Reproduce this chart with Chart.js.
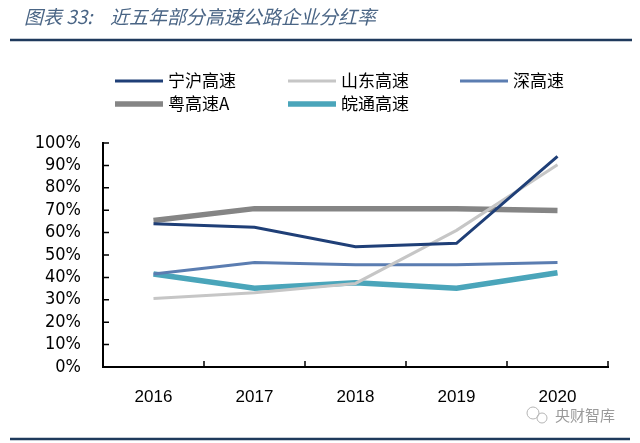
<!DOCTYPE html>
<html>
<head>
<meta charset="utf-8">
<script src="https://cdn.jsdelivr.net/npm/chart.js@4/dist/chart.umd.min.js"></script>
<style>
  html, body { margin: 0; padding: 0; background: #fff; }
  #wrap { width: 640px; height: 443px; position: relative; }
</style>
</head>
<body>
<div id="wrap"><canvas id="myChart" width="640" height="443"></canvas></div>
<script>
const years = ["2016", "2017", "2018", "2019", "2020"];
const seriesNames = ["宁沪高速", "山东高速", "深高速", "粤高速A", "皖通高速"];
const ningHu = [63.9, 62.4, 53.7, 55.2, 94.0];
const shanDong = [30.6, 33.1, 37.3, 61.0, 90.3];
const shenGs = [41.5, 46.6, 45.7, 45.7, 46.6];
const yueGs = [65.4, 70.7, 70.7, 70.7, 69.9];
const wanTong = [41.5, 35.2, 37.6, 35.2, 42.1];
const yTicks = [0, 10, 20, 30, 40, 50, 60, 70, 80, 90, 100];

const colors = ["#1f3f77", "#c6c6c6", "#5b7db1", "#858585", "#4aa5ba"];
const widths = [3, 3, 3, 5.5, 5.5];
const values = [ningHu, shanDong, shenGs, yueGs, wanTong];

// title, rules, legend, watermark and inward ticks
const decor = {
  id: "decor",
  afterDraw(chart) {
    const ctx = chart.ctx;
    ctx.save();

    ctx.fillStyle = "#4a6585";
    ctx.font = "italic 19px 'Noto Sans CJK SC'";
    ctx.textBaseline = "middle";
    ctx.textAlign = "left";
    ctx.fillText("图表 33:", 24, 17);
    ctx.fillText("近五年部分高速公路企业分红率", 110, 17);

    ctx.strokeStyle = "#1f3a5c";
    ctx.lineWidth = 2.5;
    ctx.beginPath();
    ctx.moveTo(10, 40);
    ctx.lineTo(632, 40);
    ctx.moveTo(10, 439);
    ctx.lineTo(630, 439);
    ctx.stroke();

    // legend in a fixed grid
    const cols = [115, 288, 460];
    const rows = [81, 104];
    ctx.font = "17px 'Noto Sans CJK SC'";
    ctx.fillStyle = "#000";
    chart.data.datasets.forEach((ds, i) => {
      const x = cols[i % 3];
      const y = rows[Math.floor(i / 3)];
      ctx.strokeStyle = ds.borderColor;
      ctx.lineWidth = ds.borderWidth;
      ctx.beginPath();
      ctx.moveTo(x, y);
      ctx.lineTo(x + 48, y);
      ctx.stroke();
      ctx.fillText(ds.label, x + 53, y);
    });

    // watermark
    ctx.fillStyle = "#9a9a9a";
    ctx.font = "15px 'Noto Sans CJK SC'";
    ctx.fillText("央财智库", 555, 415);
    ctx.strokeStyle = "#b5b5b5";
    ctx.lineWidth = 1;
    ctx.beginPath();
    ctx.arc(533, 413, 6, 0, Math.PI * 2);
    ctx.moveTo(547, 418);
    ctx.arc(542, 418, 5, 0, Math.PI * 2);
    ctx.stroke();

    // inward tick marks
    const xs = chart.scales.x;
    const ys = chart.scales.y;
    ctx.strokeStyle = "#000";
    ctx.lineWidth = 1.5;
    ctx.beginPath();
    ys.ticks.forEach((t) => {
      const py = ys.getPixelForValue(t.value);
      ctx.moveTo(xs.left, py);
      ctx.lineTo(xs.left + 6, py);
    });
    for (let i = 1; i <= years.length; i++) {
      const px = xs.getPixelForValue(i - 0.5);
      ctx.moveTo(px, ys.bottom);
      ctx.lineTo(px, ys.bottom - 6);
    }
    ctx.stroke();
    ctx.restore();
  },
};

const config = {
  type: "line",
  data: {
    labels: years,
    datasets: seriesNames.map((name, i) => ({
      label: name,
      data: values[i],
      borderColor: colors[i],
      backgroundColor: colors[i],
      borderWidth: widths[i],
      pointRadius: 0,
      tension: 0,
      fill: false,
    })),
  },
  options: {
    responsive: false,
    animation: false,
    layout: { padding: { left: 0, right: 32, top: 143, bottom: 26 } },
    plugins: {
      legend: { display: false },
      tooltip: { enabled: false },
    },
    scales: {
      x: {
        offset: true,
        grid: { display: false, offset: true },
        border: { color: "#000", width: 2 },
        ticks: {
          color: "#000",
          padding: 12,
          font: { family: "'Liberation Sans'", size: 17 },
        },
        afterFit(scale) { scale.height = 50; },
      },
      y: {
        min: 0,
        max: 100,
        afterBuildTicks(scale) { scale.ticks = yTicks.map((v) => ({ value: v })); },
        grid: { display: false },
        border: { color: "#000", width: 2 },
        ticks: {
          color: "#000",
          padding: 14,
          autoSkip: false,
          font: { family: "'DejaVu Sans Condensed'", size: 18 },
          callback: (v) => v + "%",
        },
        afterFit(scale) { scale.width = 103; },
      },
    },
  },
  plugins: [decor],
};

new Chart(document.getElementById("myChart"), config);
</script>
</body>
</html>
